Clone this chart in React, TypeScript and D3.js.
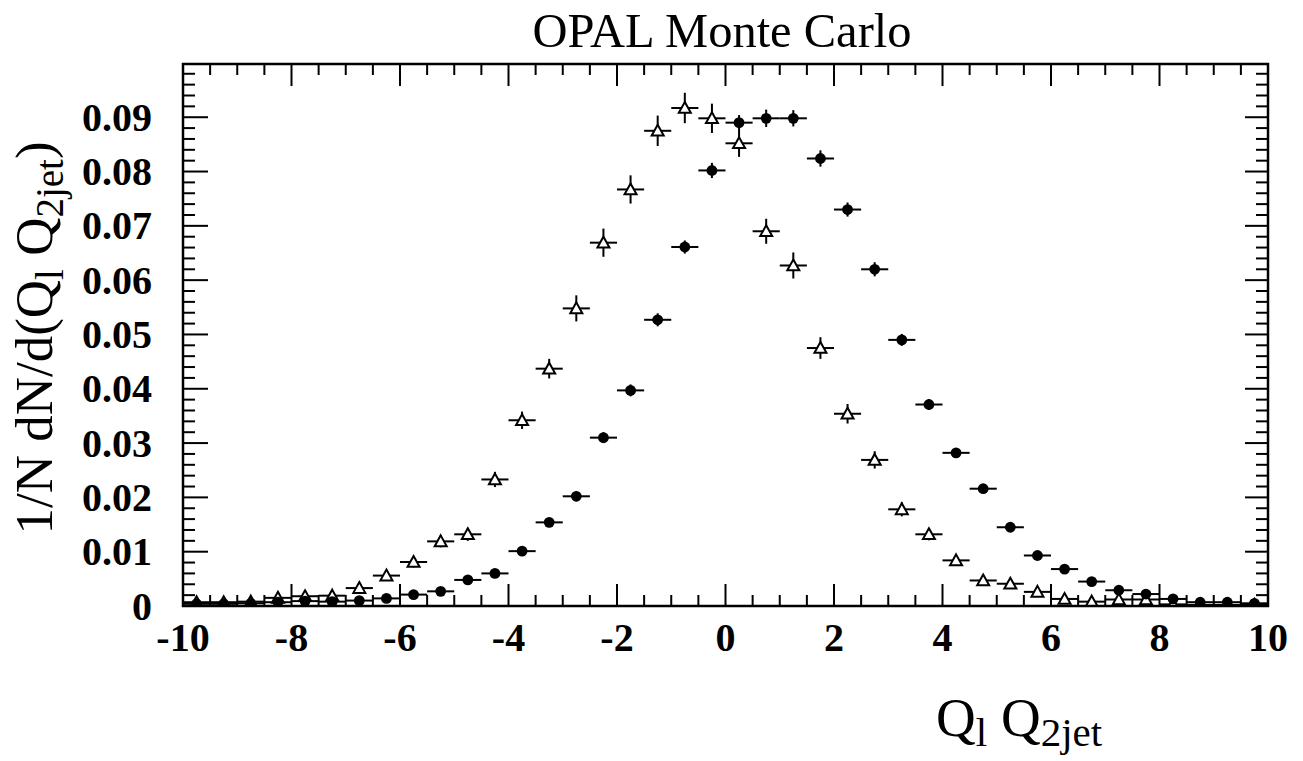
import React from "react";
import * as d3 from "d3";

const binCenters: number[] = [
  -9.75, -9.25, -8.75, -8.25, -7.75, -7.25, -6.75, -6.25, -5.75, -5.25,
  -4.75, -4.25, -3.75, -3.25, -2.75, -2.25, -1.75, -1.25, -0.75, -0.25,
  0.25, 0.75, 1.25, 1.75, 2.25, 2.75, 3.25, 3.75, 4.25, 4.75,
  5.25, 5.75, 6.25, 6.75, 7.25, 7.75, 8.25, 8.75, 9.25, 9.75,
];
const binHalfWidth = 0.25;

const circleValues: number[] = [
  0.0004, 0.0004, 0.0005, 0.0007, 0.0009, 0.0008, 0.001, 0.0014, 0.0021, 0.0027,
  0.0048, 0.006, 0.0101, 0.0154, 0.0202, 0.031, 0.0397, 0.0527, 0.0661, 0.0802,
  0.089, 0.0898, 0.0898, 0.0824, 0.073, 0.062, 0.049, 0.0371, 0.0282, 0.0216,
  0.0145, 0.0093, 0.0068, 0.0045, 0.0029, 0.0022, 0.0013, 0.0007, 0.0007, 0.0005,
];
const circleErrors: number[] = [
  0.0002, 0.0002, 0.0002, 0.0002, 0.0003, 0.0003, 0.0003, 0.0003, 0.0004, 0.0004,
  0.0005, 0.0006, 0.0007, 0.0008, 0.0009, 0.001, 0.0011, 0.0012, 0.0012, 0.0014,
  0.0014, 0.0016, 0.0015, 0.0015, 0.0013, 0.0013, 0.0011, 0.001, 0.0009, 0.0008,
  0.0007, 0.0006, 0.0005, 0.0004, 0.0004, 0.0003, 0.0003, 0.0002, 0.0002, 0.0002,
];

const triangleValues: number[] = [
  0.0007, 0.0007, 0.0008, 0.0015, 0.0018, 0.0019, 0.0033, 0.0056, 0.0081, 0.0119,
  0.0132, 0.0233, 0.0342, 0.0437, 0.0548, 0.0669, 0.0767, 0.0875, 0.0917, 0.0898,
  0.0852, 0.069, 0.0627, 0.0475, 0.0354, 0.0269, 0.0178, 0.0132, 0.0084, 0.0047,
  0.0041, 0.0026, 0.0013, 0.0008, 0.0012, 0.0012, 0.0003, 0.0002, 0.0002, 0.0002,
];
const triangleErrors: number[] = [
  0.0003, 0.0003, 0.0003, 0.0005, 0.0005, 0.0006, 0.0007, 0.0009, 0.001, 0.0011,
  0.0012, 0.0014, 0.0016, 0.0018, 0.0024, 0.0026, 0.0026, 0.0028, 0.0028, 0.0027,
  0.0025, 0.0023, 0.0024, 0.002, 0.0018, 0.0016, 0.0013, 0.0011, 0.0009, 0.0007,
  0.0007, 0.0005, 0.0004, 0.0003, 0.0003, 0.0003, 0.0002, 0.0002, 0.0002, 0.0002,
];

const xTickLabels: number[] = [-10, -8, -6, -4, -2, 0, 2, 4, 6, 8, 10];
const yTickLabels: string[] = ["0", "0.01", "0.02", "0.03", "0.04", "0.05", "0.06", "0.07", "0.08", "0.09"];

const W = 1303;
const H = 761;
const L = 183;
const R = 1268;
const T = 64;
const B = 606;

export default function App() {
  const xs = d3.scaleLinear().domain([-10, 10]).range([L, R]);
  const ys = d3.scaleLinear().domain([0, 0.0998]).range([B, T]);

  const xMinor = d3.range(-10, 10.0001, 0.5).map((v) => Math.round(v * 10) / 10);
  const yMinor = d3.range(0, 0.0998, 0.002).map((v) => Math.round(v * 1000) / 1000);

  const serif = "'Liberation Serif', 'Times New Roman', serif";
  const sw = 2;

  const triPath = (cx: number, cy: number) => {
    const s = 6;
    return `M${cx},${cy - s} L${cx + s},${cy + s * 0.8} L${cx - s},${cy + s * 0.8} Z`;
  };

  return (
    <svg width={W} height={H} style={{ position: "absolute", left: 0, top: 0, background: "#fff" }}>
      <defs>
        <clipPath id="plotclip">
          <rect x={L} y={T} width={R - L} height={B - T} />
        </clipPath>
      </defs>
      <rect x={0} y={0} width={W} height={H} fill="#fff" />

      {/* Title */}
      <text x={722} y={47} textAnchor="middle" fontFamily={serif} fontSize={48.5} fill="#000">
        OPAL Monte Carlo
      </text>

      {/* x ticks */}
      {xMinor.map((v, i) => {
        const major = Math.abs(v % 2) < 1e-9;
        const len = major ? 22 : 11;
        const x = xs(v);
        return (
          <g key={"xt" + i}>
            <line x1={x} x2={x} y1={B} y2={B - len} stroke="#000" strokeWidth={sw} />
            <line x1={x} x2={x} y1={T} y2={T + len} stroke="#000" strokeWidth={sw} />
          </g>
        );
      })}
      {/* y ticks */}
      {yMinor.map((v, i) => {
        const major = Math.abs((v * 1000) % 10) < 1e-6;
        const y = ys(v);
        return (
          <g key={"yt" + i}>
            <line x1={L} x2={L + (major ? 25 : 12)} y1={y} y2={y} stroke="#000" strokeWidth={sw} />
            <line x1={R} x2={R - (major ? 23 : 12)} y1={y} y2={y} stroke="#000" strokeWidth={sw} />
          </g>
        );
      })}

      {/* x tick labels */}
      {xTickLabels.map((v) => (
        <text key={"xl" + v} x={xs(v)} y={651} textAnchor="middle" fontFamily={serif} fontWeight="bold" fontSize={40} fill="#000">
          {v < 0 ? "-" + Math.abs(v) : String(v)}
        </text>
      ))}
      {/* y tick labels */}
      {yTickLabels.map((s, i) => (
        <text key={"yl" + i} x={152} y={ys(i * 0.01) + 13.5} textAnchor="end" fontFamily={serif} fontWeight="bold" fontSize={40} fill="#000">
          {s}
        </text>
      ))}

      {/* data */}
      <g clipPath="url(#plotclip)">
        {binCenters.map((c, i) => {
          const x = xs(c);
          const y = ys(triangleValues[i]);
          const e = triangleErrors[i];
          return (
            <g key={"tri" + i}>
              <line x1={xs(c - binHalfWidth)} x2={xs(c + binHalfWidth)} y1={y} y2={y} stroke="#000" strokeWidth={sw} />
              <line x1={x} x2={x} y1={ys(triangleValues[i] - e)} y2={ys(triangleValues[i] + e)} stroke="#000" strokeWidth={sw} />
              <path d={triPath(x, y)} fill="#fff" stroke="#000" strokeWidth={2} />
            </g>
          );
        })}
        {binCenters.map((c, i) => {
          const x = xs(c);
          const y = ys(circleValues[i]);
          const e = circleErrors[i];
          return (
            <g key={"cir" + i}>
              <line x1={xs(c - binHalfWidth)} x2={xs(c + binHalfWidth)} y1={y} y2={y} stroke="#000" strokeWidth={sw} />
              <line x1={x} x2={x} y1={ys(circleValues[i] - e)} y2={ys(circleValues[i] + e)} stroke="#000" strokeWidth={sw} />
              <circle cx={x} cy={y} r={5.4} fill="#000" />
            </g>
          );
        })}
      </g>

      {/* frame */}
      <rect x={L} y={T} width={R - L} height={B - T} fill="none" stroke="#000" strokeWidth={2.5} />

      {/* x title */}
      <text x={936} y={736} fontFamily={serif} fontSize={55} fill="#000">
        Q<tspan fontSize={41} dy={10}>l</tspan>
        <tspan dy={-10}> Q</tspan>
        <tspan fontSize={41} dy={10}>2jet</tspan>
      </text>

      {/* y title */}
      <text transform={`translate(52,338) rotate(-90)`} textAnchor="middle" fontFamily={serif} fontSize={53} fill="#000">
        1/N dN/d(Q<tspan fontSize={39} dy={11}>l</tspan>
        <tspan dy={-11}> Q</tspan>
        <tspan fontSize={39} dy={11}>2jet</tspan>
        <tspan dy={-11}>)</tspan>
      </text>
    </svg>
  );
}
